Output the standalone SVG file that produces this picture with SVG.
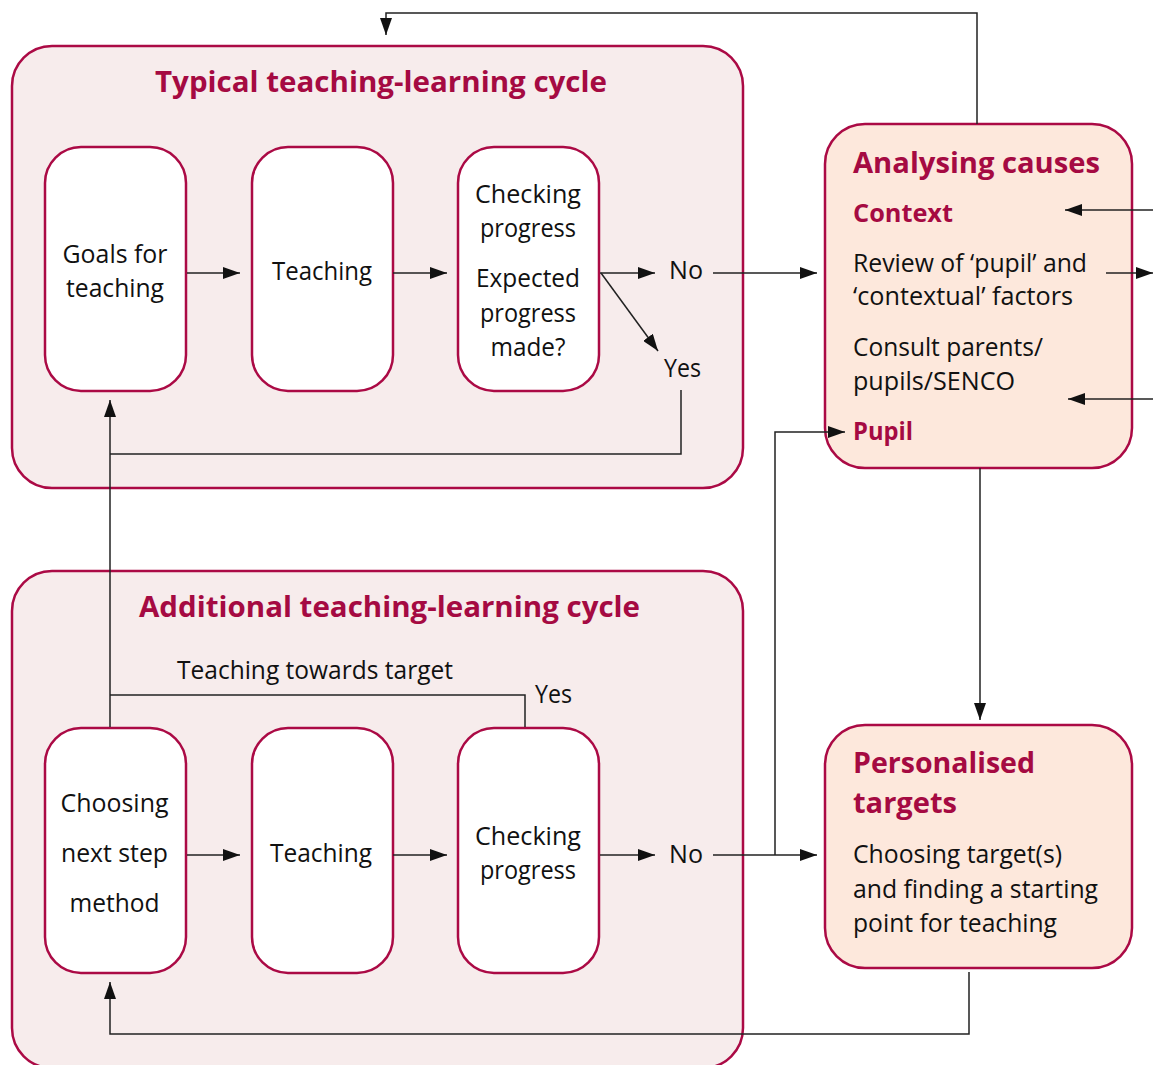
<svg xmlns="http://www.w3.org/2000/svg" width="1153" height="1065" viewBox="0 0 1153 1065">
<defs>
<marker id="ah" markerUnits="userSpaceOnUse" markerWidth="17" markerHeight="12" refX="17" refY="6" orient="auto">
<path d="M0,0 L17,6 L0,12 z" fill="#111"/>
</marker>
<style>
.outer{fill:#f7ecec;stroke:#ab0a45;stroke-width:2.5}
.inner{fill:#ffffff;stroke:#ab0a45;stroke-width:2.5}
.warm{fill:#fde8dc;stroke:#ab0a45;stroke-width:2.5}
.t{font-family:"Open Sans","Noto Sans",sans-serif;font-size:25px;fill:#111}
.h{font-family:"Open Sans","Noto Sans",sans-serif;font-size:29px;font-weight:bold;fill:#a50a42}
.hs{font-family:"Open Sans","Noto Sans",sans-serif;font-size:25px;font-weight:bold;fill:#a50a42}
.c{text-anchor:middle}
.ln{fill:none;stroke:#222;stroke-width:1.5}
.ar{fill:none;stroke:#222;stroke-width:1.5;marker-end:url(#ah)}
</style>
</defs>

<g id="typical-cycle">
<rect class="outer" x="12" y="46" width="731" height="442" rx="40"/>
<text class="h c" x="381" y="92" textLength="452" lengthAdjust="spacingAndGlyphs">Typical teaching-learning cycle</text>
</g>
<g id="additional-cycle">
<rect class="outer" x="12" y="571" width="731" height="497" rx="40"/>
<text class="h c" x="389.5" y="617" textLength="501" lengthAdjust="spacingAndGlyphs">Additional teaching-learning cycle</text>
</g>

<g id="goals">
<rect class="inner" x="45" y="147" width="141" height="244" rx="36"/>
<text class="t c" x="115" y="263" textLength="105" lengthAdjust="spacingAndGlyphs">Goals for</text>
<text class="t c" x="115" y="297" textLength="98" lengthAdjust="spacingAndGlyphs">teaching</text>
</g>
<g id="teaching1">
<rect class="inner" x="252" y="147" width="141" height="244" rx="36"/>
<text class="t c" x="322" y="280" textLength="100" lengthAdjust="spacingAndGlyphs">Teaching</text>
</g>
<g id="checking1">
<rect class="inner" x="458" y="147" width="141" height="244" rx="36"/>
<text class="t c" x="528" y="203" textLength="106" lengthAdjust="spacingAndGlyphs">Checking</text>
<text class="t c" x="528" y="237" textLength="96" lengthAdjust="spacingAndGlyphs">progress</text>
<text class="t c" x="528" y="287" textLength="104" lengthAdjust="spacingAndGlyphs">Expected</text>
<text class="t c" x="528" y="322" textLength="96" lengthAdjust="spacingAndGlyphs">progress</text>
<text class="t c" x="528" y="356" textLength="75" lengthAdjust="spacingAndGlyphs">made?</text>
</g>

<g id="choosing">
<rect class="inner" x="45" y="728" width="141" height="245" rx="36"/>
<text class="t c" x="114.5" y="812" textLength="108" lengthAdjust="spacingAndGlyphs">Choosing</text>
<text class="t c" x="114.5" y="862" textLength="107" lengthAdjust="spacingAndGlyphs">next step</text>
<text class="t c" x="114.5" y="912" textLength="90" lengthAdjust="spacingAndGlyphs">method</text>
</g>
<g id="teaching2">
<rect class="inner" x="252" y="728" width="141" height="245" rx="36"/>
<text class="t c" x="321" y="862" textLength="102" lengthAdjust="spacingAndGlyphs">Teaching</text>
</g>
<g id="checking2">
<rect class="inner" x="458" y="728" width="141" height="245" rx="36"/>
<text class="t c" x="528" y="845" textLength="106" lengthAdjust="spacingAndGlyphs">Checking</text>
<text class="t c" x="528" y="879" textLength="96" lengthAdjust="spacingAndGlyphs">progress</text>
</g>

<g id="analysing">
<rect class="warm" x="825" y="124" width="307" height="344" rx="40"/>
<text class="h" x="853" y="173" textLength="247" lengthAdjust="spacingAndGlyphs">Analysing causes</text>
<text class="hs" x="853" y="222" textLength="100" lengthAdjust="spacingAndGlyphs">Context</text>
<text class="t" x="853" y="272" textLength="234" lengthAdjust="spacingAndGlyphs">Review of ‘pupil’ and</text>
<text class="t" x="853" y="305" textLength="220" lengthAdjust="spacingAndGlyphs">‘contextual’ factors</text>
<text class="t" x="853" y="356" textLength="190" lengthAdjust="spacingAndGlyphs">Consult parents/</text>
<text class="t" x="853" y="390" textLength="162" lengthAdjust="spacingAndGlyphs">pupils/SENCO</text>
<text class="hs" x="853" y="440" textLength="60" lengthAdjust="spacingAndGlyphs">Pupil</text>
</g>

<g id="personalised">
<rect class="warm" x="825" y="725" width="307" height="243" rx="40"/>
<text class="h" x="853" y="773" textLength="182" lengthAdjust="spacingAndGlyphs">Personalised</text>
<text class="h" x="853" y="813" textLength="104" lengthAdjust="spacingAndGlyphs">targets</text>
<text class="t" x="853" y="863" textLength="209" lengthAdjust="spacingAndGlyphs">Choosing target(s)</text>
<text class="t" x="853" y="898" textLength="245" lengthAdjust="spacingAndGlyphs">and finding a starting</text>
<text class="t" x="853" y="932" textLength="204" lengthAdjust="spacingAndGlyphs">point for teaching</text>
</g>

<g id="connectors">
<path class="ar" d="M187,273 H240"/>
<path class="ar" d="M393,273 H447"/>
<path class="ar" d="M600,273 H655"/>
<path class="ar" d="M713,273 H817"/>
<path class="ar" d="M601,273 L658,351"/>
<path class="ln" d="M681,390 V454 H110"/>
<path class="ar" d="M110,727 V400"/>
<path class="ln" d="M525,727 V695 H110"/>
<path class="ar" d="M187,855 H240"/>
<path class="ar" d="M393,855 H447"/>
<path class="ar" d="M600,855 H655"/>
<path class="ar" d="M713,855 H817"/>
<path class="ar" d="M775,855 V432 H845"/>
<path class="ar" d="M977,124 V13 H386 V35"/>
<path class="ar" d="M980,468 V720"/>
<path class="ar" d="M969,972 V1034 H110 V982"/>
<path class="ar" d="M1153,210 H1065"/>
<path class="ar" d="M1106,273 H1153"/>
<path class="ar" d="M1153,399 H1068"/>
<text class="t" x="669" y="279" textLength="34" lengthAdjust="spacingAndGlyphs">No</text>
<text class="t" x="664" y="377" textLength="37" lengthAdjust="spacingAndGlyphs">Yes</text>
<text class="t" x="669" y="863" textLength="34" lengthAdjust="spacingAndGlyphs">No</text>
<text class="t" x="535" y="703" textLength="37" lengthAdjust="spacingAndGlyphs">Yes</text>
<text class="t" x="177" y="679" textLength="276" lengthAdjust="spacingAndGlyphs">Teaching towards target</text>
</g>
</svg>
